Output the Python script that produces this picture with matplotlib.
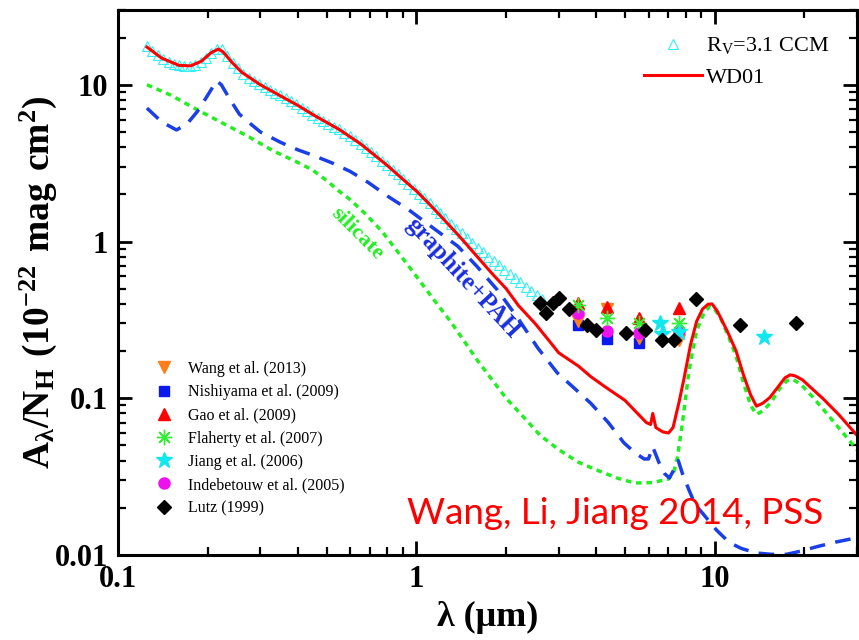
import numpy as np
import matplotlib
matplotlib.use("Agg")
import matplotlib.pyplot as plt
from matplotlib import ticker

plt.rcParams['font.family'] = ['Liberation Serif', 'DejaVu Serif']
plt.rcParams['mathtext.fontset'] = 'custom'
plt.rcParams['mathtext.rm'] = 'Liberation Serif:bold'
plt.rcParams['mathtext.sf'] = 'Liberation Serif'
plt.rcParams['mathtext.default'] = 'rm'

# R_V=3.1 CCM (open triangles)
ccm_lam = [0.125, 0.130, 0.136, 0.142, 0.148, 0.154, 0.160, 0.167, 0.174, 0.181,
           0.189, 0.197, 0.205, 0.214, 0.223, 0.232, 0.242, 0.252, 0.263, 0.274,
           0.285, 0.297, 0.310, 0.323, 0.336, 0.350, 0.365, 0.380, 0.396, 0.413,
           0.430, 0.448, 0.467, 0.487, 0.507, 0.529, 0.551, 0.574, 0.598, 0.623,
           0.650, 0.677, 0.705, 0.735, 0.766, 0.798, 0.832, 0.867, 0.903, 0.941,
           0.981, 1.02, 1.06, 1.11, 1.16, 1.20, 1.25, 1.31, 1.36, 1.42,
           1.48, 1.54, 1.61, 1.67, 1.74, 1.82, 1.89, 1.97, 2.06, 2.14,
           2.23, 2.33, 2.43, 2.53, 2.63]
ccm_A = [17.6, 16.5, 15.4, 14.6, 14.0, 13.6, 13.35, 13.2, 13.2, 13.4,
         13.9, 14.8, 16.0, 17.0, 16.8, 15.3, 13.8, 12.7, 11.8, 11.1,
         10.6, 10.1, 9.7, 9.3, 8.9, 8.55, 8.2, 7.85, 7.5, 7.15,
         6.8, 6.45, 6.15, 5.85, 5.6, 5.4, 5.2, 4.95, 4.7, 4.45,
         4.2, 3.95, 3.72, 3.5, 3.28, 3.08, 2.88, 2.68, 2.5, 2.33,
         2.17, 2.02, 1.89, 1.75, 1.62, 1.52, 1.41, 1.30, 1.21, 1.13,
         1.05, 0.98, 0.91, 0.86, 0.80, 0.75, 0.71, 0.66, 0.62, 0.585,
         0.55, 0.515, 0.485, 0.455, 0.43]

# WD01 total
wd_lam = [0.125, 0.14, 0.16, 0.175, 0.19, 0.205, 0.217, 0.225, 0.24, 0.26,
          0.30, 0.35, 0.40, 0.45, 0.55, 0.65, 0.80, 0.90, 1.0, 1.1,
          1.2, 1.4, 1.6, 1.8, 2.0, 2.2, 2.5, 2.8, 3.0, 3.5,
          3.85, 4.3, 5.0, 5.9, 6.1, 6.2, 6.35, 6.7, 7.0, 7.25,
          7.6, 7.9, 8.3, 8.7, 9.1, 9.5, 9.8, 10.2, 11.0, 11.8,
          12.5, 13.2, 13.8, 14.5, 15.3, 16.3, 17.2, 17.9, 18.6, 19.7,
          21, 23, 26, 30]
wd_A = [17.4, 14.8, 13.3, 13.2, 14.1, 16.0, 16.9, 16.2, 14.0, 12.0,
        10.0, 8.5, 7.4, 6.45, 5.2, 4.2, 3.05, 2.5, 2.1, 1.75,
        1.47, 1.07, 0.80, 0.62, 0.50, 0.39, 0.30, 0.23, 0.195, 0.16,
        0.137, 0.118, 0.097, 0.070, 0.068, 0.080, 0.065, 0.061, 0.060, 0.065,
        0.095, 0.135, 0.22, 0.31, 0.37, 0.398, 0.40, 0.36, 0.27, 0.20,
        0.14, 0.105, 0.089, 0.093, 0.101, 0.118, 0.135, 0.141, 0.139, 0.131,
        0.117, 0.100, 0.079, 0.058]

# silicate
sil_lam = [0.125, 0.15, 0.18, 0.22, 0.275, 0.33, 0.40, 0.45, 0.50, 0.55,
           0.60, 0.675, 0.77, 0.87, 1.0, 1.15, 1.3, 1.45, 1.6, 1.8,
           2.0, 2.3, 2.6, 3.0, 3.5, 4.0, 4.7, 5.4, 6.2, 7.0,
           7.3, 7.5, 7.8, 8.2, 8.7, 9.2, 9.6, 10.0, 10.5, 11.2,
           11.8, 12.5, 13.2, 13.8, 14.5, 15.5, 16.5, 17.5, 18.3, 19.5,
           21, 23, 26, 30]
sil_A = [10.0, 8.6, 7.1, 5.8, 4.65, 3.8, 3.2, 2.85, 2.45, 2.1,
         1.85, 1.5, 1.15, 0.85, 0.6, 0.42, 0.31, 0.23, 0.175, 0.13,
         0.10, 0.075, 0.058, 0.047, 0.039, 0.035, 0.031, 0.0288, 0.029, 0.0305,
         0.034, 0.042, 0.07, 0.15, 0.27, 0.35, 0.385, 0.37, 0.32, 0.24,
         0.185, 0.125, 0.09, 0.079, 0.083, 0.095, 0.115, 0.13, 0.132, 0.122,
         0.105, 0.086, 0.065, 0.047]

# graphite + PAH
gra_lam = [0.125, 0.14, 0.157, 0.17, 0.185, 0.2, 0.214, 0.222, 0.236, 0.255,
           0.27, 0.30, 0.35, 0.40, 0.45, 0.52, 0.6, 0.69, 0.8, 0.94,
           1.1, 1.25, 1.38, 1.6, 1.87, 2.2, 2.55, 2.97, 3.4, 3.84,
           4.4, 4.96, 5.4, 5.8, 6.0, 6.2, 6.5, 6.8, 7.05, 7.3,
           7.55, 7.8, 8.2, 8.6, 9.1, 10.15, 11.2, 12.3, 13.8, 15.5,
           17.4, 19.5, 22, 25.5, 30]
gra_A = [7.1, 5.8, 5.15, 5.6, 6.8, 8.6, 10.6, 10.0, 8.2, 6.5,
         5.9, 5.0, 4.3, 3.85, 3.55, 3.18, 2.8, 2.38, 1.95, 1.6,
         1.28, 1.07, 0.93, 0.69, 0.49, 0.32, 0.21, 0.145, 0.115, 0.093,
         0.07, 0.052, 0.045, 0.041, 0.041, 0.049, 0.039, 0.033, 0.031, 0.035,
         0.040, 0.033, 0.026, 0.021, 0.0185, 0.0144, 0.012, 0.011, 0.0103, 0.0101,
         0.0101, 0.0106, 0.0113, 0.0121, 0.0129]

# observations
wang_lam = [3.49, 4.37, 5.58, 7.6]
wang_A = [0.31, 0.37, 0.241, 0.236]
nish_lam = [3.49, 4.37, 5.58]
nish_A = [0.295, 0.238, 0.224]
gao_lam = [3.49, 4.37, 5.58, 7.6]
gao_A = [0.404, 0.381, 0.324, 0.376]
flah_lam = [3.49, 4.37, 5.58, 7.6]
flah_A = [0.394, 0.324, 0.301, 0.304]
jiang_lam = [6.57, 6.66, 7.6, 14.6]
jiang_A = [0.30, 0.258, 0.265, 0.247]
inde_lam = [3.49, 4.37, 5.58, 7.6]
inde_A = [0.349, 0.267, 0.262, 0.267]
lutz_lam = [2.60, 2.72, 2.86, 3.01, 3.25, 3.74, 3.99, 5.06, 5.86, 6.66, 7.29, 8.66, 12.14, 18.76]
lutz_A = [0.404, 0.349, 0.404, 0.435, 0.370, 0.294, 0.273, 0.262, 0.273, 0.236, 0.236, 0.428, 0.294, 0.301]

fig = plt.figure(figsize=(8.59, 6.40), dpi=100)
ax = fig.add_axes([0.1374, 0.1328, 0.8603, 0.8516])

ax.plot(sil_lam, sil_A, color='#22ee22', lw=2.5, ls=(0, (1.6, 1.4)))
ax.plot(gra_lam, gra_A, color='#1a3ee8', lw=2.5, ls=(0, (4.5, 3)))
l_ccm, = ax.plot(ccm_lam, ccm_A, ls='none', marker='^', ms=7, mfc='none',
                 mec='#33f0f0', mew=0.8)
l_wd, = ax.plot(wd_lam, wd_A, color='red', lw=2.2)

m_nish, = ax.plot(nish_lam, nish_A, 's', color='#0b18ee', ms=7, ls='none')
m_wang, = ax.plot(wang_lam, wang_A, 'v', color='#ff7f1a', ms=9, ls='none')
m_inde, = ax.plot(inde_lam, inde_A, 'o', color='#ee11ee', ms=8, ls='none')
m_gao, = ax.plot(gao_lam, gao_A, '^', color='#ff0000', ms=9, ls='none')
m_flah, = ax.plot(flah_lam, flah_A, marker=(8, 2, 0), color='#33ee33', ms=11,
                  mew=1.0, ls='none')
m_jiang, = ax.plot(jiang_lam, jiang_A, '*', color='#11e8ee', ms=12, ls='none')
m_lutz, = ax.plot(lutz_lam, lutz_A, 'D', color='black', ms=7, ls='none')

ax.set_xscale('log')
ax.set_yscale('log')
ax.set_xlim(0.1, 30)
ax.set_ylim(0.01, 30)

fmt = ticker.FuncFormatter(lambda v, p: f'{v:g}')
ax.xaxis.set_major_formatter(fmt)
ax.yaxis.set_major_formatter(fmt)
ax.xaxis.set_minor_formatter(ticker.NullFormatter())
ax.yaxis.set_minor_formatter(ticker.NullFormatter())
ax.tick_params(which='both', direction='in', top=True, right=True)
ax.tick_params(which='major', length=10, width=2, labelsize=22, pad=7)
ax.tick_params(which='minor', length=5.5, width=1.6)
for lab in ax.get_xticklabels() + ax.get_yticklabels():
    lab.set_fontweight('bold')
for sp in ax.spines.values():
    sp.set_linewidth(2.2)

ax.set_xlabel('λ (μm)', fontsize=26, fontweight='bold', labelpad=5)
ax.set_ylabel(r'$A_{\lambda}/N_{H}\ (10^{-22}\ mag\ cm^{2})$', fontsize=27, labelpad=-3)

leg1 = ax.legend([l_ccm, l_wd], [r'R$_{\mathsf{V}}$=3.1 CCM', 'WD01'],
                 loc='upper right', bbox_to_anchor=(0.99, 0.99), frameon=False,
                 fontsize=16, handlelength=2.6, handletextpad=0.2, labelspacing=0.5)
ax.add_artist(leg1)
ax.legend([m_wang, m_nish, m_gao, m_flah, m_jiang, m_inde, m_lutz],
          ['Wang et al. (2013)', 'Nishiyama et al. (2009)', 'Gao et al. (2009)',
           'Flaherty et al. (2007)', 'Jiang et al. (2006)',
           'Indebetouw et al. (2005)', 'Lutz (1999)'],
          loc='lower left', bbox_to_anchor=(0.03, 0.045), frameon=False,
          fontsize=11.5, handlelength=1.2, handletextpad=0.9, labelspacing=0.45)

ax.text(0.324, 0.59, 'silicate', transform=ax.transAxes, color='#22ee22',
        fontsize=16, fontweight='bold', rotation=-45, ha='center', va='center')
ax.text(0.467, 0.508, 'graphite+PAH', transform=ax.transAxes, color='#1a2ee0',
        fontsize=18, fontweight='bold', rotation=-47, ha='center', va='center')
ax.text(0.672, 0.077, 'Wang, Li, Jiang 2014, PSS', transform=ax.transAxes,
        color='red', fontsize=26.5, family='Lato', ha='center', va='center')

fig.savefig('out.png', dpi=100)
